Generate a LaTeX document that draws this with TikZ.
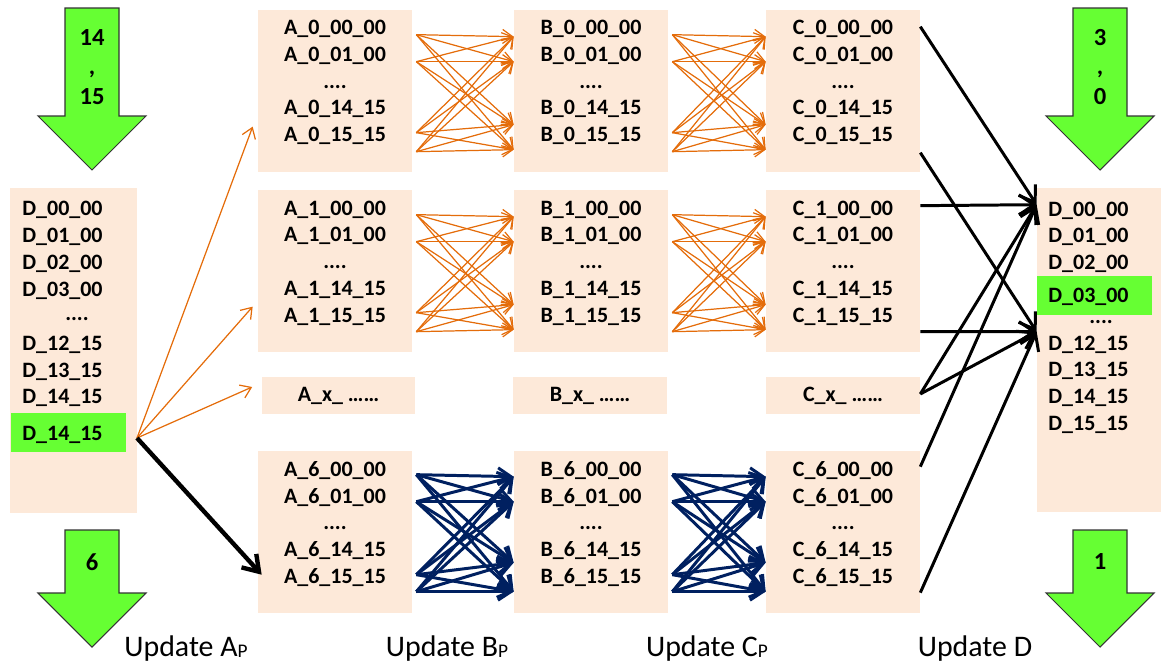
\documentclass[tikz,border=0pt]{standalone}
\usepackage{fontspec}
\setmainfont{Carlito}
\usetikzlibrary{arrows.meta}
\definecolor{peach}{HTML}{FDE9D9}
\definecolor{lime}{HTML}{66FF33}
\definecolor{rust}{HTML}{E46C0A}
\definecolor{navy}{HTML}{002060}
\newcommand{\lowp}{\raisebox{-0.6pt}{\fontsize{11}{11}\selectfont P}}
\begin{document}
\begin{tikzpicture}[x=0.02cm, y=-0.02cm,
  box/.style={fill=peach, inner sep=0, minimum width=3.08cm, minimum height=3.24cm},
  slim/.style={box, minimum height=0.74cm},
  hl/.style={fill=lime, inner sep=0, minimum width=2.3cm, minimum height=0.78cm},
  lbl/.style={inner sep=0, align=center, font=\bfseries\fontsize{12.5}{15.2}\selectfont},
  num/.style={inner sep=0, align=center, font=\bfseries\fontsize{14}{17}\selectfont},
  ulbl/.style={inner sep=0, font=\fontsize{17}{19}\selectfont},
  big/.style={draw=black!80, fill=lime, line width=0.6pt},
  fan/.style={draw=rust, line width=0.7pt, -{Straight Barb[length=2mm, width=2.8mm]}},
  navyfan/.style={draw=navy, line width=1.7pt, -{Straight Barb[length=2.6mm, width=3.4mm]}},
  feed/.style={draw=black, line width=1.7pt, -{Straight Barb[length=3mm, width=4mm]}}]

\useasboundingbox (0,0) rectangle (1161,663);

% D columns
\node[box, minimum width=2.54cm, minimum height=6.5cm] (dl) at (73.5,350.5) {};
\node[box, minimum width=2.48cm, minimum height=6.48cm] (dr) at (1099,350) {};
\node[hl] (g1) at (68.5,432.5) {};
\node[hl] (g2) at (1094.5,295.5) {};

\foreach \t/\y [count=\i] in {00\_00/208, 01\_00/235, 02\_00/262, 03\_00/289, 12\_15/343, 13\_15/370, 14\_15/396, 14\_15/433}
  \node[lbl, anchor=base west] (dl\i) at (22,\y+7) {D\_\t};
\node[lbl] (dldots) at (77,319) {....};

\foreach \t/\y [count=\i] in {00\_00/209, 01\_00/235, 02\_00/262, 03\_00/295, 12\_15/343, 13\_15/369, 14\_15/396, 15\_15/423}
  \node[lbl, anchor=base west] (dr\i) at (1048,\y+7) {D\_\t};
\node[lbl] (drdots) at (1101,322) {....};

% A, B, C blocks
\foreach \l/\L/\x/\xs in {a/A/335/338.5, b/B/591/590, c/C/843/843} {
  \node[box] (\l0) at (\x,91) {};
  \node[box] (\l1) at (\x,271) {};
  \node[slim] (\l x) at (\xs,395.5) {};
  \node[box] (\l6) at (\x,532) {};
  \foreach \r/\y in {0/82.5, 1/263, 6/524}
    \node[lbl] (t\l\r) at (\x,\y) {\L\_\r\_00\_00\\\L\_\r\_01\_00\\....\\\L\_\r\_14\_15\\\L\_\r\_15\_15};
  \node[lbl] (t\l x) at (\l x) {\L\_x\_ ……};
}

% big arrows
\foreach \x/\y/\h in {92/8/108, 1100/8/108, 92/530/63, 1100/530/63}
  \draw[big] (\x-27,\y) -- (\x+27,\y) -- (\x+27,\y+\h) -- (\x+54,\y+\h) -- (\x,\y+\h+54)
    -- (\x-54,\y+\h) -- (\x-27,\y+\h) -- cycle;
\node[num] (n1) at (92,67) {14\\,\\15};
\node[num] (n2) at (1100,67) {3\\,\\0};
\node[num] (n3) at (92,562) {6};
\node[num] (n4) at (1100,562) {1};

% from D into the A blocks
\coordinate (src) at (137,438);
\draw[fan] (src) -- ([shift={(-5,117)}]a0.north west);
\draw[fan] (src) -- ([shift={(-5,117)}]a1.north west);
\draw[fan] (src) -- ([shift={(-9,-8.5)}]ax.west);
\draw[draw=black, line width=2.5pt, -{Straight Barb[length=3mm, width=4mm]}] (src) -- ([shift={(4,124)}]a6.north west);

% A -> B -> C
\foreach \p/\q in {a0/b0, b0/c0, a1/b1, b1/c1}
  \foreach \s in {25,52,123,142}
    \foreach \t in {27,52,115,140}
      \draw[fan] ([shift={(4,\s)}]\p.north east) -- ([shift={(0,\t)}]\q.north west);
\foreach \p/\q in {a6/b6, b6/c6}
  \foreach \s in {24,51,124,141}
    \foreach \t in {26,51,112,141}
      \draw[navyfan] ([shift={(4,\s)}]\p.north east) -- ([shift={(0,\t)}]\q.north west);

% C -> D
\coordinate (up) at ([shift={(0,17)}]dr.north west);
\coordinate (lo) at ([shift={(0,144)}]dr.north west);
\draw[feed] ([shift={(0,17)}]c0.north east) -- (up);
\draw[feed] ([shift={(0,143)}]c0.north east) -- (lo);
\draw[feed] ([shift={(0,16)}]c1.north east) -- (up);
\draw[feed] ([shift={(0,142)}]c1.north east) -- (lo);
\draw[feed] ([shift={(0,-1.5)}]cx.east) -- (up);
\draw[feed] ([shift={(0,-1.5)}]cx.east) -- (lo);
\draw[feed] ([shift={(0,16)}]c6.north east) -- (up);
\draw[feed] ([shift={(0,142)}]c6.north east) -- (lo);

\node[ulbl, anchor=base] (ua) at (186,656) {Update A\lowp};
\node[ulbl, anchor=base] (ub) at (447,656) {Update B\lowp};
\node[ulbl, anchor=base] (uc) at (707,656) {Update C\lowp};
\node[ulbl, anchor=base] (ud) at (975,656) {Update D};
\end{tikzpicture}
\end{document}
